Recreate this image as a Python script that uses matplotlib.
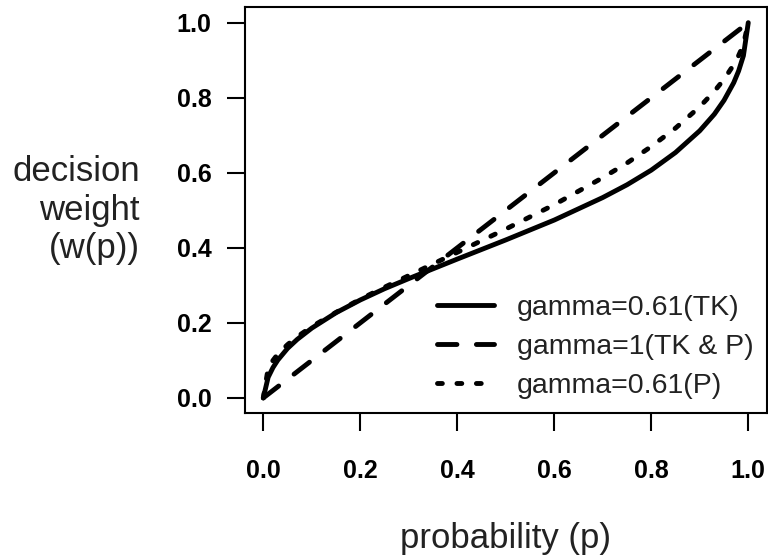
import numpy as np
import matplotlib
matplotlib.use("Agg")
import matplotlib.pyplot as plt

plt.rcParams['font.family'] = ['Liberation Sans', 'DejaVu Sans']

# values
p = [0.0, 0.01, 0.02, 0.03, 0.05, 0.07, 0.10, 0.15, 0.20, 0.25, 0.30, 0.40, 0.50,
     0.60, 0.70, 0.75, 0.80, 0.85, 0.90, 0.93, 0.95, 0.97, 0.98, 0.99, 1.0]
w_tk = [0.0, 0.055, 0.081, 0.101, 0.132, 0.156, 0.186, 0.227, 0.261, 0.291, 0.318, 0.370, 0.421,
        0.474, 0.534, 0.568, 0.607, 0.654, 0.712, 0.756, 0.793, 0.840, 0.871, 0.912, 1.0]
w_lin = [0.0, 0.01, 0.02, 0.03, 0.05, 0.07, 0.10, 0.15, 0.20, 0.25, 0.30, 0.40, 0.50,
         0.60, 0.70, 0.75, 0.80, 0.85, 0.90, 0.93, 0.95, 0.97, 0.98, 0.99, 1.0]
w_pr = [0.0, 0.079, 0.100, 0.117, 0.142, 0.163, 0.190, 0.228, 0.263, 0.295, 0.326, 0.388, 0.450,
        0.515, 0.587, 0.626, 0.670, 0.719, 0.776, 0.817, 0.849, 0.888, 0.912, 0.941, 1.0]
labels = ['gamma=0.61(TK)', 'gamma=1(TK & P)', 'gamma=0.61(P)']
xticks = [0.0, 0.2, 0.4, 0.6, 0.8, 1.0]
yticks = [0.0, 0.2, 0.4, 0.6, 0.8, 1.0]

fig = plt.figure(figsize=(7.68, 5.57), dpi=100)
ax = fig.add_axes([0.3186, 0.258, 0.6797, 0.7296])

lw = 3.5
ax.plot(p, w_tk, color='black', lw=lw, solid_capstyle='round', label=labels[0])
ax.plot(p, w_lin, color='black', lw=lw, linestyle=(0, (4, 4)), dash_capstyle='round', label=labels[1])
ax.plot(p, w_pr, color='black', lw=lw, linestyle=(0, (1, 3)), dash_capstyle='round', label=labels[2])

ax.set_xlim(-0.0384, 1.038)
ax.set_ylim(-0.041, 1.042)
ax.set_xticks(xticks)
ax.set_yticks(yticks)
ax.set_xticklabels(['%.1f' % t for t in xticks], fontsize=18, fontweight='bold')
ax.set_yticklabels(['%.1f' % t for t in yticks], fontsize=18, fontweight='bold')
ax.tick_params(axis='both', direction='out', length=13, width=1.5)
ax.tick_params(axis='x', pad=20)
ax.tick_params(axis='y', pad=11)
for s in ax.spines.values():
    s.set_linewidth(1.5)

ax.set_xlabel('probability (p)', fontsize=25, color='#222222', va='center')
ax.xaxis.set_label_coords(0.5, -0.307)
ax.set_ylabel('decision\nweight\n(w(p))', fontsize=25, color='#222222', rotation=0,
              ha='right', va='center', multialignment='right', linespacing=1.22)
ax.yaxis.set_label_coords(-0.2006, 0.5)

leg = ax.legend(loc='upper left', bbox_to_anchor=(0.3684, 0.291), frameon=False,
                fontsize=20.5, handlelength=2.0, handletextpad=0.8, labelspacing=0.46,
                borderpad=0, borderaxespad=0)
for t in leg.get_texts():
    t.set_color('#222222')

fig.savefig('out.png', dpi=100)
